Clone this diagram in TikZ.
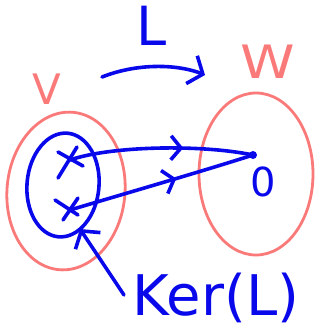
\documentclass[tikz,border=0pt]{standalone}
\usepackage{fontspec}
\setmainfont{DejaVu Sans}
\usetikzlibrary{arrows.meta,decorations.markings,shapes.geometric}
\definecolor{penblue}{RGB}{8,8,235}
\definecolor{pensalmon}{RGB}{250,122,122}
\begin{document}
\begin{tikzpicture}[x=1pt,y=-1pt,
  bl/.style={draw=penblue, line width=3.6pt, line cap=round, line join=round},
  rd/.style={draw=pensalmon, line width=2.8pt, line cap=round, line join=round},
  btext/.style={text=penblue, inner sep=0pt},
  rtext/.style={text=pensalmon, inner sep=0pt},
  barb/.style={-{Straight Barb[length=12pt,width=30pt,line width=3.6pt]}},
  midbarb/.style={postaction={decorate, decoration={markings,
     mark=at position #1 with {\arrow[penblue]{Straight Barb[length=10pt,width=24pt,line width=3.6pt]}}}}}]
\useasboundingbox (0,0) rectangle (323,335);
% titles
\node[btext, font=\fontsize{54}{54}\selectfont] (L) at (152,26) {L};
\node[rtext, font=\fontsize{42}{42}\selectfont] (V) at (47,89) {V};
\node[rtext, font=\fontsize{46}{46}\selectfont, xscale=1.2] (W) at (268,62) {W};
% top arrow
\coordinate (a1) at (102,77);
\coordinate (a2) at (205,75);
\draw[bl, barb] (a1) .. controls (140,62) and (180,65) .. (a2);
% spaces
\node[rd, ellipse, minimum width=118pt, minimum height=158pt, rotate=-5] (Vs) at (66,191) {};
\node[rd, ellipse, minimum width=114pt, minimum height=162pt] (Ws) at (256,174) {};
\node[bl, ellipse, minimum width=72pt, minimum height=104pt, rotate=-5] (K) at (63,185) {};
% crosses
\coordinate (x1) at (70,160);
\coordinate (x2) at (70,210);
\draw[bl] (58,152) -- (83,166) (77,147) -- (58,178);
\draw[bl] (55,200) -- (78,215) (78,198) -- (63,220);
% zero point
\coordinate (o) at (253,155);
\fill[penblue] (o) circle (4pt);
\node[btext, font=\fontsize{40}{40}\selectfont] (zero) at (263,182) {0};
% maps into 0
\draw[bl, midbarb=0.62] (x1) .. controls (110,146) and (200,144) .. (o);
\draw[bl, midbarb=0.58] (x2) .. controls (120,195) and (200,172) .. (o);
% kernel label
\node[btext, font=\fontsize{56}{56}\selectfont] (ker) at (216,298) {Ker(L)};
\coordinate (k1) at (124,295);
\coordinate (k2) at (80,229);
\draw[bl, barb] (k1) -- (k2);
\end{tikzpicture}
\end{document}
